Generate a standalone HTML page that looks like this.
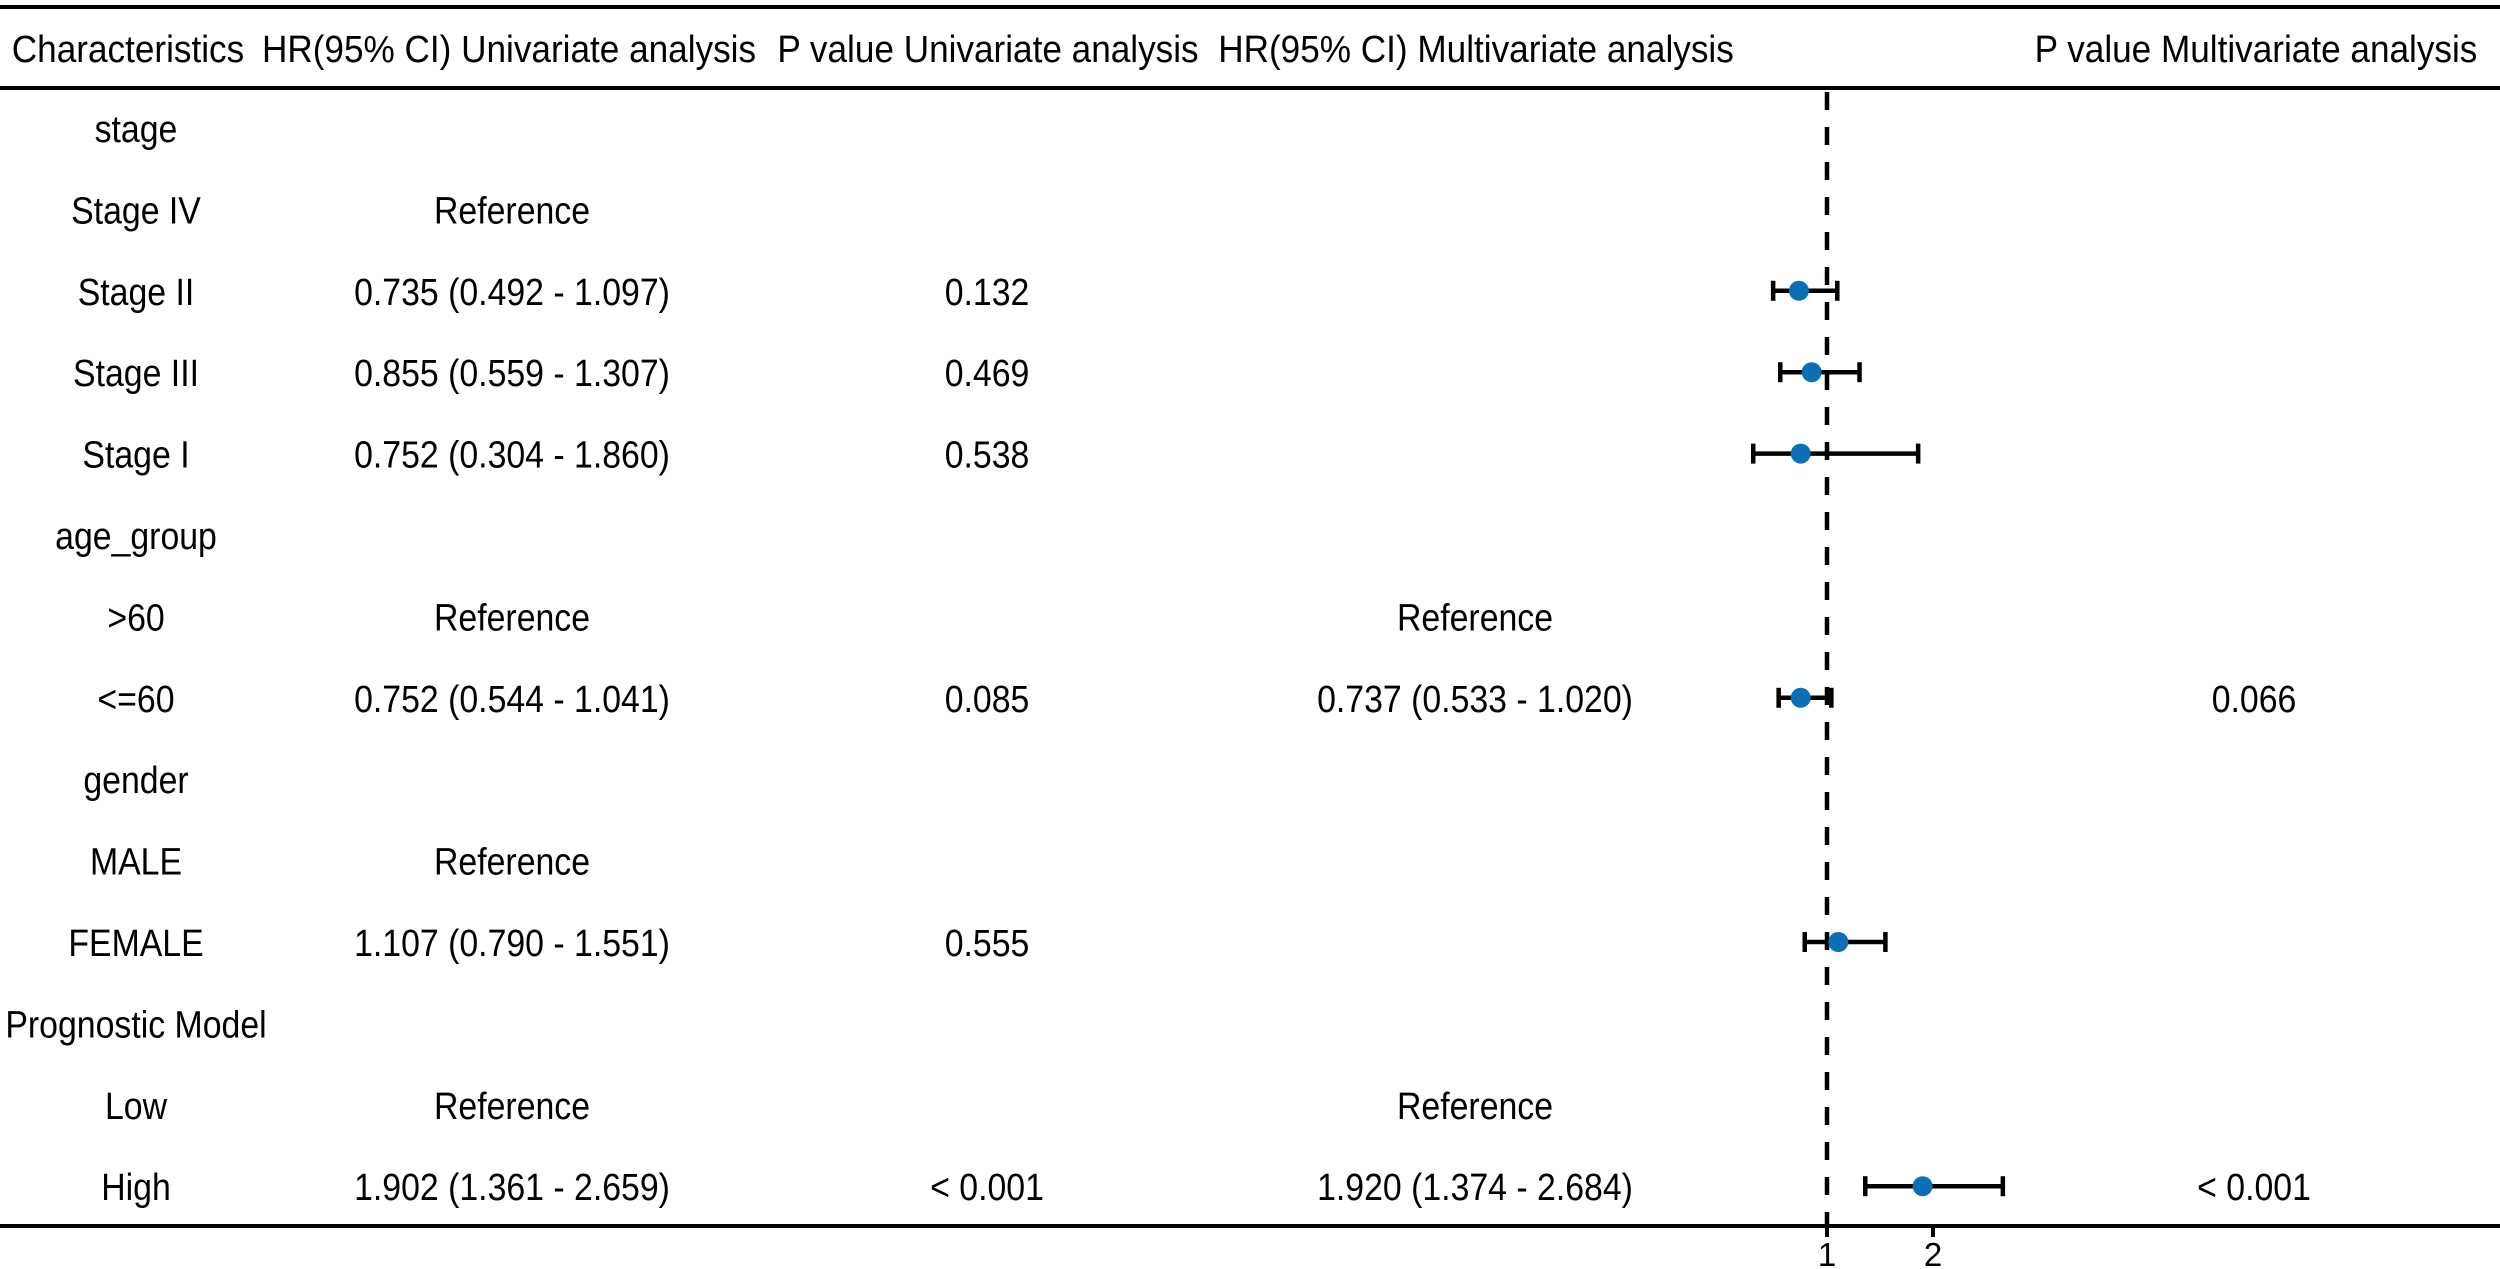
<!DOCTYPE html>
<html><head><meta charset="utf-8"><style>
html,body{margin:0;padding:0;background:#fff}
svg{display:block}
text{font-family:"Liberation Sans",Arial,sans-serif;fill:#000}
</style></head><body>
<svg id="chart" width="2500" height="1269" viewBox="0 0 2500 1269" xmlns="http://www.w3.org/2000/svg">
<line x1="0" y1="7" x2="2500" y2="7" stroke="#000" stroke-width="4"/>
<line x1="0" y1="88" x2="2500" y2="88" stroke="#000" stroke-width="4"/>
<line x1="0" y1="1226" x2="2500" y2="1226" stroke="#000" stroke-width="4"/>
<g font-size="38" text-anchor="middle">
<text transform="translate(128,62) scale(0.925,1)">Characteristics</text>
<text transform="translate(509,62) scale(0.925,1)">HR(95% CI) Univariate analysis</text>
<text transform="translate(988,62) scale(0.925,1)">P value Univariate analysis</text>
<text transform="translate(1476,62) scale(0.925,1)">HR(95% CI) Multivariate analysis</text>
<text transform="translate(2256,62) scale(0.925,1)">P value Multivariate analysis</text>
</g>
<g id="rows" font-size="38" text-anchor="middle"></g>
<g id="plot"></g>
</svg>
<script>
const labels=["stage","Stage IV","Stage II","Stage III","Stage I","age_group",">60","<=60","gender","MALE","FEMALE","Prognostic Model","Low","High"];
const hrUni=["","Reference","0.735 (0.492 - 1.097)","0.855 (0.559 - 1.307)","0.752 (0.304 - 1.860)","","Reference","0.752 (0.544 - 1.041)","","Reference","1.107 (0.790 - 1.551)","","Reference","1.902 (1.361 - 2.659)"];
const pUni=["","","0.132","0.469","0.538","","","0.085","","","0.555","","","< 0.001"];
const hrMulti=["","","","","","","Reference","0.737 (0.533 - 1.020)","","","","","Reference","1.920 (1.374 - 2.684)"];
const pMulti=["","","","","","","","0.066","","","","","","< 0.001"];
const est=[null,null,0.735,0.855,0.752,null,null,0.752,null,null,1.107,null,null,1.902];
const lo=[null,null,0.492,0.559,0.304,null,null,0.544,null,null,0.790,null,null,1.361];
const hi=[null,null,1.097,1.307,1.860,null,null,1.041,null,null,1.551,null,null,2.659];
const ticks=[1,2];
const NS="http://www.w3.org/2000/svg";
const xS=v=>1827+(v-1)*106;
const yS=i=>128+i*81.4;
const rows=document.getElementById('rows'),plot=document.getElementById('plot');
function mk(tag,attrs,parent){const e=document.createElementNS(NS,tag);for(const k in attrs)e.setAttribute(k,attrs[k]);parent.appendChild(e);return e;}
const cols=[[labels,136,'label'],[hrUni,512,'hr-uni'],[pUni,987,'p-uni'],[hrMulti,1475,'hr-multi'],[pMulti,2254,'p-multi']];
cols.forEach(([arr,x,nm])=>arr.forEach((s,i)=>{if(!s)return;const t=mk('text',{transform:'translate('+x+','+(yS(i)+14)+') scale(0.89,1)'},rows);


t.textContent=s;}));
const ref=mk('line',{x1:xS(1),y1:92,x2:xS(1),y2:1226,stroke:'#000','stroke-width':4.5,'stroke-dasharray':'18 17'},plot);


ticks.forEach(t=>{const l=mk('line',{x1:xS(t),y1:1224,x2:xS(t),y2:1237,stroke:'#000','stroke-width':4},plot);


const tx=mk('text',{x:xS(t),y:1266,'font-size':33,'text-anchor':'middle'},plot);


tx.textContent=t;});
est.forEach((v,i)=>{if(v==null)return;const y=yS(i);
const g=mk('g',{},plot);


mk('line',{x1:xS(lo[i]),y1:y,x2:xS(hi[i]),y2:y,stroke:'#000','stroke-width':4.5},g);
mk('line',{x1:xS(lo[i]),y1:y-10,x2:xS(lo[i]),y2:y+10,stroke:'#000','stroke-width':4.5},g);
mk('line',{x1:xS(hi[i]),y1:y-10,x2:xS(hi[i]),y2:y+10,stroke:'#000','stroke-width':4.5},g);
const c=mk('circle',{cx:xS(v),cy:y,r:10,fill:'#0b6fb5'},g);

});
</script>
</body></html>
